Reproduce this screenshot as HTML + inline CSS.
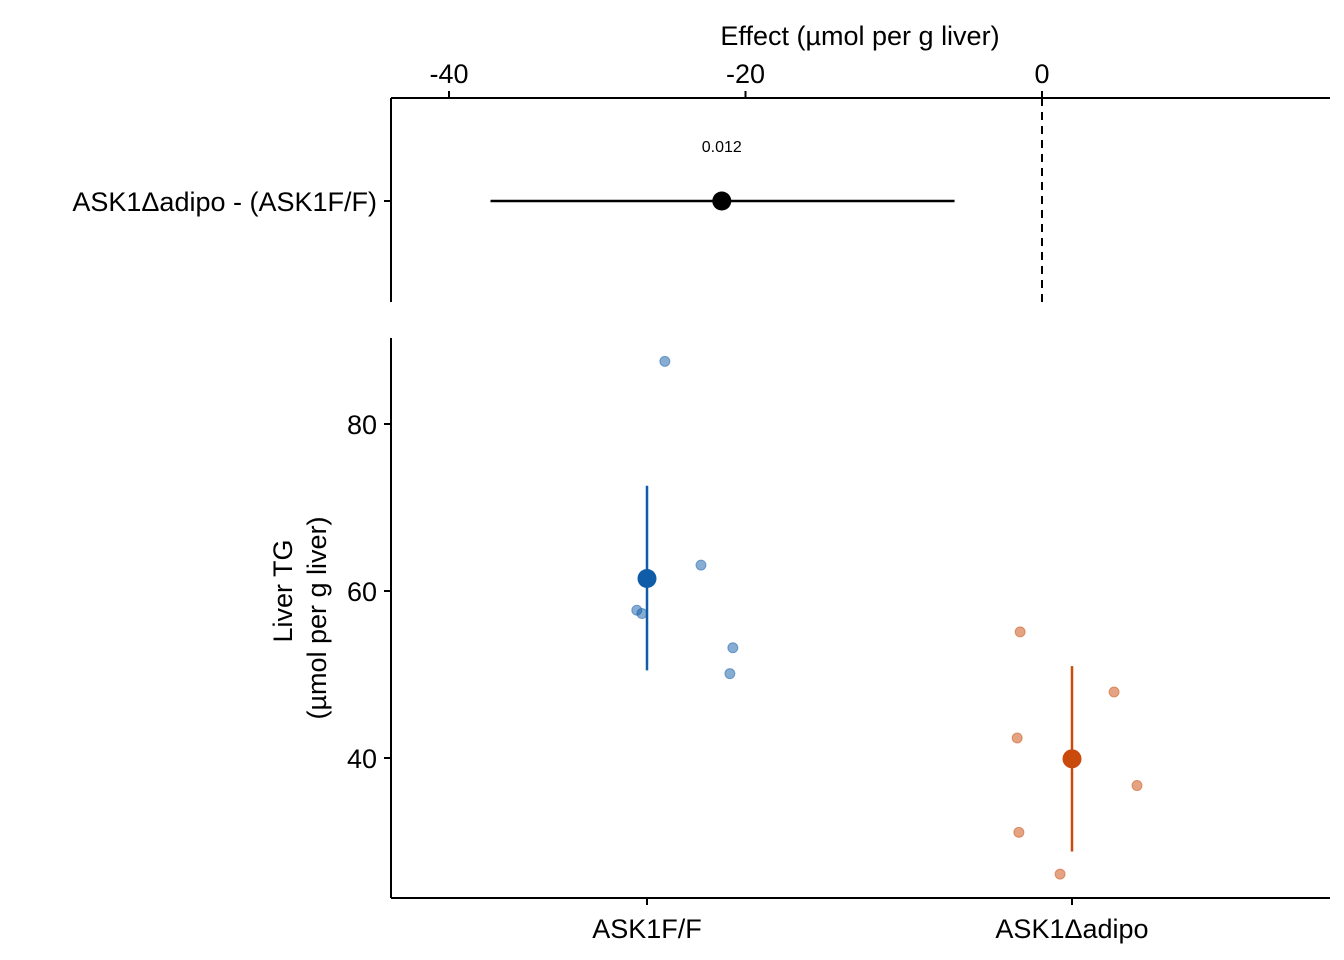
<!DOCTYPE html>
<html><head><meta charset="utf-8">
<style>
body{margin:0;background:#fff;}
svg{display:block;font-family:"Liberation Sans",Arial,sans-serif;}
</style></head>
<body>
<svg id="chart" width="1344" height="960" viewBox="0 0 1344 960" xmlns="http://www.w3.org/2000/svg">
<g id="topPanel"></g>
<g id="botPanel"></g>
</svg>
<script>
// effect panel data
const effectLabels = ["ASK1Δadipo - (ASK1F/F)"];
const effectEst = [-21.6];
const effectLo = [-37.2];
const effectHi = [-5.9];
const effectP = ["0.012"];
const effectTicks = [-40, -20, 0];
// response panel data
const groups = ["ASK1F/F", "ASK1Δadipo"];
const groupMeans = [61.5, 39.9];
const groupLo = [50.5, 28.8];
const groupHi = [72.6, 51.0];
const pointsF = [87.5, 63.1, 57.7, 57.3, 53.2, 50.1];
const jitterF = [0.042, 0.127, -0.024, -0.012, 0.202, 0.195];
const pointsA = [55.1, 47.9, 42.4, 36.7, 31.1, 26.1];
const jitterA = [-0.122, 0.099, -0.129, 0.153, -0.125, -0.028];
const yTicks = [40, 60, 80];

const NS = "http://www.w3.org/2000/svg";
function mk(parent, tag, attrs, text){
  const e = document.createElementNS(NS, tag);
  for (const k in attrs) e.setAttribute(k, attrs[k]);
  if (text !== undefined) e.textContent = text;
  parent.appendChild(e); return e;
}
const topG = document.getElementById('topPanel');
const botG = document.getElementById('botPanel');
const ex = v => 1042 + v * 14.825;
const yy = v => 591 - (v - 60) * 8.35;
const cx = i => 647 + i * 425;
const colors = ["#0f5ca8", "#c94a0a"];

let e = mk(topG, 'line', {x1:391, y1:98, x2:1330, y2:98, stroke:'#000', 'stroke-width':2});


e = mk(topG, 'line', {x1:391, y1:98, x2:391, y2:302, stroke:'#000', 'stroke-width':2});


e = mk(topG, 'text', {x:860, y:45, 'font-size':27, 'text-anchor':'middle'}, 'Effect (µmol per g liver)');


effectTicks.forEach(t => {
  let l = mk(topG, 'line', {x1:ex(t), y1:91, x2:ex(t), y2:98, stroke:'#000', 'stroke-width':2});
  
  
  let tx = mk(topG, 'text', {x:ex(t), y:83, 'font-size':27, 'text-anchor':'middle'}, String(t));
  
  
});
e = mk(topG, 'line', {x1:ex(0), y1:98, x2:ex(0), y2:302, stroke:'#000', 'stroke-width':2, 'stroke-dasharray':'8,6'});


effectLabels.forEach((lab, i) => {
  const y = 201;
  let t = mk(topG, 'line', {x1:384, y1:y, x2:391, y2:y, stroke:'#000', 'stroke-width':2});
  
  
  t = mk(topG, 'text', {x:377, y:y + 10, 'font-size':27, 'text-anchor':'end'}, lab);
  
  
  t = mk(topG, 'line', {x1:ex(effectLo[i]), y1:y, x2:ex(effectHi[i]), y2:y, stroke:'#000', 'stroke-width':2.5});
  
  
  t = mk(topG, 'circle', {cx:ex(effectEst[i]), cy:y, r:9.5, fill:'#000'});
  
  
  t = mk(topG, 'text', {x:ex(effectEst[i]), y:152, 'font-size':16, 'text-anchor':'middle'}, effectP[i]);
  
  
});

e = mk(botG, 'line', {x1:391, y1:338, x2:391, y2:898, stroke:'#000', 'stroke-width':2});


e = mk(botG, 'line', {x1:391, y1:898, x2:1330, y2:898, stroke:'#000', 'stroke-width':2});


yTicks.forEach(t => {
  let l = mk(botG, 'line', {x1:384, y1:yy(t), x2:391, y2:yy(t), stroke:'#000', 'stroke-width':2});
  
  
  let tx = mk(botG, 'text', {x:377, y:yy(t) + 10, 'font-size':27, 'text-anchor':'end'}, String(t));
  
  
});
e = mk(botG, 'text', {transform:'translate(292,591) rotate(-90)', 'font-size':27, 'text-anchor':'middle'}, 'Liver TG');


e = mk(botG, 'text', {transform:'translate(326,618) rotate(-90)', 'font-size':27, 'text-anchor':'middle'}, '(µmol per g liver)');


groups.forEach((g, i) => {
  let l = mk(botG, 'line', {x1:cx(i), y1:898, x2:cx(i), y2:905, stroke:'#000', 'stroke-width':2});
  
  
  let tx = mk(botG, 'text', {x:cx(i), y:938, 'font-size':27, 'text-anchor':'middle'}, g);
  
  
});
[[pointsF, jitterF], [pointsA, jitterA]].forEach(([pts, jit], i) => {
  pts.forEach((v, k) => {
    let c = mk(botG, 'circle', {cx:cx(i + jit[k]), cy:yy(v), r:5, fill:colors[i], 'fill-opacity':0.5, stroke:colors[i], 'stroke-opacity':0.5, 'stroke-width':1});
    
    
  });
  let l = mk(botG, 'line', {x1:cx(i), y1:yy(groupLo[i]), x2:cx(i), y2:yy(groupHi[i]), stroke:colors[i], 'stroke-width':2.5});
  
  
  let m = mk(botG, 'circle', {cx:cx(i), cy:yy(groupMeans[i]), r:9.5, fill:colors[i]});
  
  
});
</script>
</body></html>
